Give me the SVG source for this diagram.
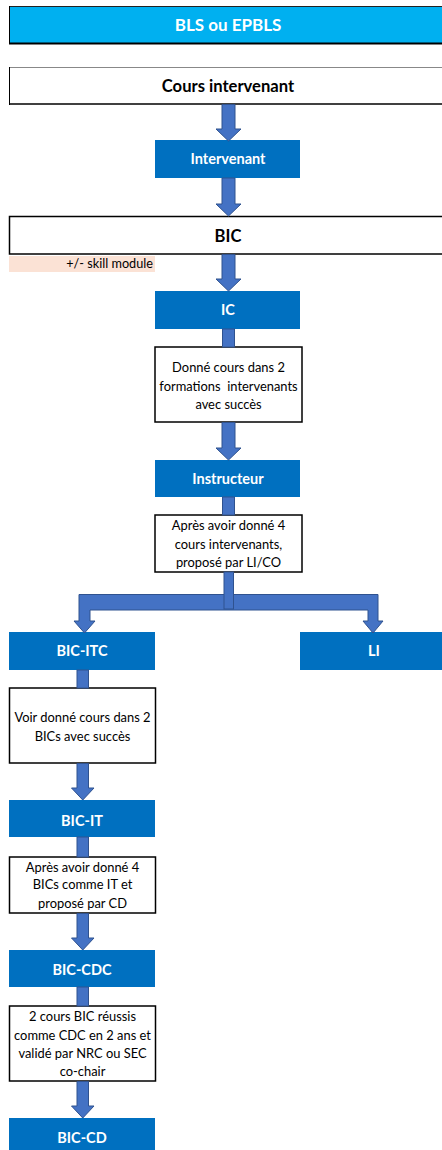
<svg xmlns="http://www.w3.org/2000/svg" width="442" height="1150" viewBox="0 0 442 1150">
<style>
.bg{fill:#ffffff}
.cyan{fill:#00B0F0}
.blue{fill:#0070C0}
.wbox{fill:#ffffff;stroke:#000000;stroke-width:1.5}
.tw{font-family:Lato,"Liberation Sans",sans-serif;font-weight:bold;fill:#ffffff;text-anchor:middle;font-size:14.5px}
.tb{font-family:Lato,"Liberation Sans",sans-serif;font-weight:bold;fill:#000000;text-anchor:middle;font-size:16.6px}
.tn{font-family:Lato,"Liberation Sans",sans-serif;fill:#000000;text-anchor:middle;font-size:12.9px}
.tr{font-family:Lato,"Liberation Sans",sans-serif;fill:#000000;text-anchor:end;font-size:12.7px}
.arr{fill:#4472C4;stroke:#2F528F;stroke-width:1}
</style>
<rect class="bg" x="0" y="0" width="442" height="1150"/>

<g id="bls">
<rect class="cyan" x="9" y="6" width="440" height="38"/>
<line x1="9" y1="6.5" x2="442" y2="6.5" stroke="#222" stroke-width="1"/>
<line x1="9" y1="43.5" x2="442" y2="43.5" stroke="#000" stroke-width="2"/>
<line x1="9.5" y1="6" x2="9.5" y2="44" stroke="#000" stroke-width="1"/>
<text class="tw" x="228" y="31" style="font-size:17px">BLS ou EPBLS</text>
</g>

<g id="cours">
<rect x="9" y="67" width="440" height="37" fill="#fff"/>
<line x1="9" y1="67.5" x2="442" y2="67.5" stroke="#888" stroke-width="1"/>
<line x1="9" y1="104" x2="442" y2="104" stroke="#000" stroke-width="1.5"/>
<line x1="9.5" y1="67" x2="9.5" y2="105" stroke="#000" stroke-width="1"/>
<text class="tb" x="228" y="92">Cours intervenant</text>
</g>

<g id="intervenant">
<rect class="blue" x="155" y="140" width="145" height="38"/>
<text class="tw" x="228" y="164">Intervenant</text>
</g>

<g id="bic">
<rect x="9.5" y="216.5" width="440" height="37.5" fill="#fff" stroke="#000" stroke-width="1.5"/>
<text class="tb" x="228" y="242">BIC</text>
</g>

<g id="skill">
<rect x="9" y="256" width="146" height="16" fill="#FBE2D5"/>
<text class="tr" x="153" y="268">+/- skill module</text>
</g>

<g id="ic">
<rect class="blue" x="155" y="291" width="145" height="38"/>
<text class="tw" x="228" y="315">IC</text>
</g>

<g id="note1">
<rect class="wbox" x="155" y="347" width="147" height="75"/>
<text class="tn" x="228.5" y="372">Donné cours dans 2</text>
<text class="tn" x="228.5" y="391" xml:space="preserve">formations  intervenants</text>
<text class="tn" x="228.5" y="409">avec succès</text>
</g>

<g id="instructeur">
<rect class="blue" x="155" y="460" width="145" height="37"/>
<text class="tw" x="228" y="484">Instructeur</text>
</g>

<g id="note2">
<rect class="wbox" x="155" y="515" width="147" height="57"/>
<text class="tn" x="228.5" y="530">Après avoir donné 4</text>
<text class="tn" x="228.5" y="549">cours intervenants,</text>
<text class="tn" x="228.5" y="567">proposé par LI/CO</text>
</g>

<g id="bicitc">
<rect class="blue" x="9" y="632" width="146" height="38"/>
<text class="tw" x="82" y="656">BIC-ITC</text>
</g>

<g id="li">
<rect class="blue" x="300" y="632" width="149" height="38"/>
<text class="tw" x="374" y="656">LI</text>
</g>

<g id="note3">
<rect class="wbox" x="9.5" y="688" width="146" height="75"/>
<text class="tn" x="82.5" y="722">Voir donné cours dans 2</text>
<text class="tn" x="82.5" y="741">BICs avec succès</text>
</g>

<g id="bicit">
<rect class="blue" x="9" y="800" width="146" height="37"/>
<text class="tw" x="82" y="826">BIC-IT</text>
</g>

<g id="note4">
<rect class="wbox" x="9.5" y="857" width="146" height="56"/>
<text class="tn" x="82.5" y="872">Après avoir donné 4</text>
<text class="tn" x="82.5" y="889">BICs comme IT et</text>
<text class="tn" x="82.5" y="908">proposé par CD</text>
</g>

<g id="biccdc">
<rect class="blue" x="9" y="950" width="146" height="37"/>
<text class="tw" x="82" y="975">BIC-CDC</text>
</g>

<g id="note5">
<rect class="wbox" x="9.5" y="1006" width="146" height="75"/>
<text class="tn" x="82.5" y="1021">2 cours BIC réussis</text>
<text class="tn" x="82.5" y="1040">comme CDC en 2 ans et</text>
<text class="tn" x="82.5" y="1058">validé par NRC ou SEC</text>
<text class="tn" x="82.5" y="1076">co-chair</text>
</g>

<g id="biccd">
<rect class="blue" x="9" y="1118" width="146" height="40"/>
<text class="tw" x="82" y="1143">BIC-CD</text>
</g>

<g id="connectors">
<path class="arr" d="M222 104.5 H235 V129 H241 L228.5 141 L216 129 H222 Z"/>
<path class="arr" d="M222 178 H235 V204 H241 L228.5 216 L216 204 H222 Z"/>
<path class="arr" d="M222 254.5 H235 V279 H241 L228.5 291 L216 279 H222 Z"/>
<rect class="arr" x="222.5" y="329" width="12" height="18"/>
<path class="arr" d="M222 422.5 H235 V448 H241 L228.5 460 L216 448 H222 Z"/>
<rect class="arr" x="222.5" y="497" width="12" height="18"/>
<path class="arr" d="M79 594.5 H378 V610 H378 V621 H383 L373 633 L363 621 H368 V610 H90 V621 H95 L84.5 633 L74 621 H79 Z"/>
<rect class="arr" x="224" y="572" width="9.5" height="37"/>
<rect class="arr" x="77" y="670" width="11.5" height="18"/>
<path class="arr" d="M77 763.5 H88.5 V788 H94 L82.75 800 L71.5 788 H77 Z"/>
<rect class="arr" x="77" y="837" width="11.5" height="20"/>
<path class="arr" d="M77 913.5 H88.5 V938 H94 L82.75 950 L71.5 938 H77 Z"/>
<rect class="arr" x="77" y="987" width="11.5" height="19"/>
<path class="arr" d="M77 1081.5 H88.5 V1106 H94 L82.75 1118 L71.5 1106 H77 Z"/>
</g>
</svg>
